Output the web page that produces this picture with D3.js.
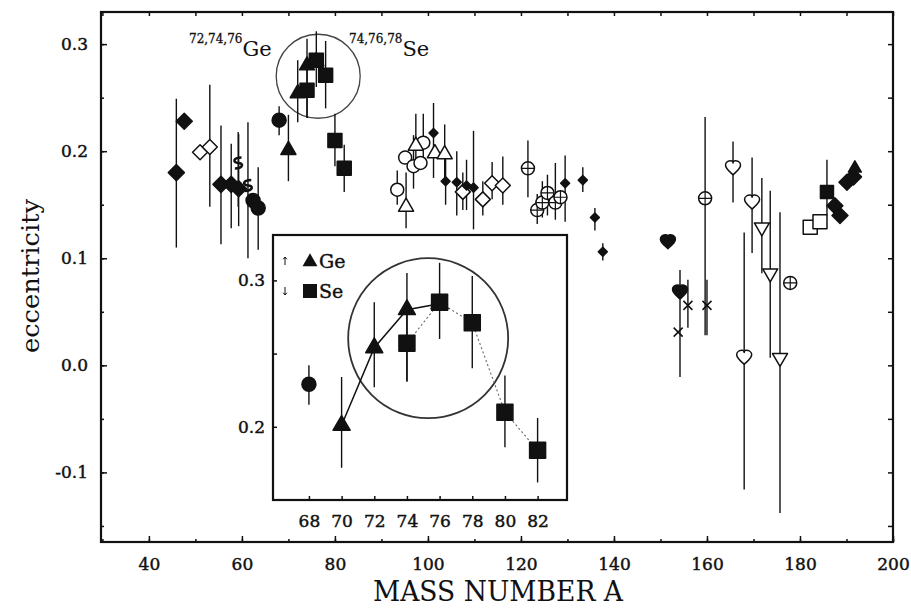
<!DOCTYPE html>
<html>
<head>
<meta charset="utf-8">
<script src="https://d3js.org/d3.v7.min.js"></script>
<style>
  body { margin: 0; background: #fff; }
  text { font-family: "DejaVu Serif", serif; fill: #111; }
</style>
</head>
<body>
<div id="chart"></div>
<script>
// rows: mass number A, eccentricity, lower end of error bar, upper end of error bar
var filledDiamonds = [
  [45.9, 0.180, 0.110, 0.249],
  [47.6, 0.228, null, null],
  [55.5, 0.169, 0.113, 0.224],
  [57.7, 0.169, 0.128, 0.207],
  [59.3, 0.165, 0.130, 0.216],
  [187.5, 0.149, null, null],
  [188.6, 0.140, null, null],
  [190.1, 0.171, null, null],
  [191.5, 0.176, null, null]
];
var smallFilled = [
  [101.2, 0.217, 0.175, 0.245],
  [103.8, 0.172, 0.150, 0.195],
  [106.2, 0.171, 0.140, 0.200],
  [108.3, 0.168, 0.145, 0.192],
  [109.8, 0.166, 0.127, 0.219],
  [129.5, 0.170, 0.134, 0.196],
  [133.3, 0.173, 0.162, 0.185],
  [135.9, 0.138, 0.126, 0.147],
  [137.6, 0.106, 0.098, 0.114]
];
var filledCircles = [
  [62.4, 0.154, null, null],
  [63.5, 0.147, 0.108, 0.185]
];
var dollarMarks = [
  [59.2, 0.189, 0.148, 0.218],
  [61.3, 0.168, 0.100, 0.227]
];
var openDiamonds = [
  [51.0, 0.199, null, null],
  [53.1, 0.204, 0.148, 0.262],
  [107.5, 0.162, 0.145, 0.180],
  [111.8, 0.155, 0.140, 0.172],
  [113.8, 0.170, 0.155, 0.190],
  [116.1, 0.168, 0.150, 0.195]
];
var openCircles = [
  [93.4, 0.164, 0.150, 0.182],
  [95.1, 0.194, null, null],
  [96.9, 0.186, 0.165, 0.215],
  [98.4, 0.189, null, null],
  [99.0, 0.208, 0.190, 0.235]
];
var openTriangles = [
  [95.3, 0.148, 0.128, 0.180],
  [97.4, 0.205, 0.185, 0.235],
  [101.5, 0.198, null, null],
  [103.6, 0.197, 0.175, 0.225]
];
var crossedCircles = [
  [121.5, 0.184, 0.157, 0.210],
  [123.5, 0.145, 0.132, 0.160],
  [124.6, 0.152, 0.138, 0.172],
  [125.7, 0.161, 0.140, 0.178],
  [127.4, 0.152, 0.136, 0.189],
  [128.5, 0.157, null, null],
  [159.6, 0.156, 0.028, 0.232],
  [177.9, 0.077, null, null]
];
var openHearts = [
  [165.6, 0.184, 0.152, 0.209],
  [169.7, 0.152, 0.105, 0.194],
  [168.0, 0.007, -0.116, 0.124]
];
var filledHearts = [
  [151.6, 0.115, null, null],
  [154.2, 0.068, -0.011, 0.089]
];
var openDownTriangles = [
  [171.8, 0.129, 0.086, 0.175],
  [173.6, 0.086, 0.007, 0.163],
  [175.7, 0.007, -0.138, 0.143]
];
var crossMarks = [
  [153.8, 0.031, null, null],
  [155.9, 0.056, 0.035, 0.080],
  [160.0, 0.056, 0.028, 0.080]
];
var openSquares = [
  [182.2, 0.129, null, null],
  [184.3, 0.134, null, null]
];
var filledSquares = [
  [185.8, 0.162, 0.140, 0.192]
];
var filledTriangles = [
  [191.8, 0.184, null, null]
];

// Zn, Ge and Se isotopes, drawn in the main panel and in the inset
var zinc = [[68, 0.229, 0.215, 0.242]];
var germanium = [
  [70, 0.201, 0.172, 0.234],
  [72, 0.254, 0.227, 0.285],
  [74, 0.280, 0.231, 0.305],
  [76, 0.284, null, null]
];
var selenium = [
  [74, 0.257, 0.231, 0.285],
  [76, 0.285, 0.260, 0.312],
  [78, 0.271, 0.240, 0.303],
  [80, 0.210, 0.186, 0.235],
  [82, 0.184, 0.162, 0.206]
];

var xTicks = [40, 60, 80, 100, 120, 140, 160, 180, 200];
var yTicks = [-0.1, 0.0, 0.1, 0.2, 0.3];
var insetXTicks = [68, 70, 72, 74, 76, 78, 80, 82];
var insetYTicks = [0.2, 0.3];

var width = 911, height = 610;
var svg = d3.select('#chart').append('svg')
  .attr('width', width).attr('height', height);

var x = d3.scaleLinear().domain([29.7, 200]).range([101, 893]);
var y = d3.scaleLinear().domain([-0.165, 0.33]).range([542, 12]);

// marker outlines, centred on 0,0; s is roughly the width in px
function shapePath(kind, s) {
  var h = s / 2, p = d3.path();
  if (kind == 'diamond') {
    p.moveTo(0, -h); p.lineTo(h, 0); p.lineTo(0, h); p.lineTo(-h, 0); p.closePath();
  } else if (kind == 'square') {
    p.rect(-h, -h, s, s);
  } else if (kind == 'circle') {
    p.arc(0, 0, h, 0, 2 * Math.PI);
  } else if (kind == 'triangle' || kind == 'down') {
    var t = s * 0.866, k = kind == 'down' ? -1 : 1;
    p.moveTo(0, -k * t * 2 / 3); p.lineTo(h, k * t / 3); p.lineTo(-h, k * t / 3); p.closePath();
  } else if (kind == 'heart') {
    var u = s / 14;
    return 'M0,' + 6 * u + 'C' + -2 * u + ',' + 4 * u + ' ' + -7 * u + ',' + 1 * u + ' ' + -7 * u + ',' + -3 * u +
      'C' + -7 * u + ',' + -6 * u + ' ' + -4 * u + ',' + -7 * u + ' ' + -2 * u + ',' + -7 * u +
      'C' + -1 * u + ',' + -7 * u + ' 0,' + -6 * u + ' 0,' + -5 * u +
      'C0,' + -6 * u + ' ' + 1 * u + ',' + -7 * u + ' ' + 2 * u + ',' + -7 * u +
      'C' + 4 * u + ',' + -7 * u + ' ' + 7 * u + ',' + -6 * u + ' ' + 7 * u + ',' + -3 * u +
      'C' + 7 * u + ',' + 1 * u + ' ' + 2 * u + ',' + 4 * u + ' 0,' + 6 * u + 'Z';
  } else if (kind == 'x') {
    p.moveTo(-h, -h); p.lineTo(h, h); p.moveTo(-h, h); p.lineTo(h, -h);
  } else if (kind == 'dollar') {
    return 'M' + h * 0.6 + ',' + -h + 'C' + -h + ',' + -h + ' ' + -h + ',0 0,0' +
      'C' + h + ',0 ' + h + ',' + h + ' ' + -h * 0.6 + ',' + h;
  } else if (kind == 'arrowUp' || kind == 'arrowDown') {
    var k2 = kind == 'arrowUp' ? 1 : -1;
    p.moveTo(0, k2 * h); p.lineTo(0, -k2 * h);
    p.moveTo(-h * 0.45, -k2 * h * 0.45); p.lineTo(0, -k2 * h); p.lineTo(h * 0.45, -k2 * h * 0.45);
  }
  return p.toString();
}

function drawSeries(layer, sx, sy, series) {
  // error bars underneath every marker
  series.forEach(function(ser) {
    layer.append('g').selectAll('line')
      .data(ser.rows.filter(function(d) { return d[2] != null; }))
      .enter().append('line')
      .attr('x1', function(d) { return sx(d[0]); })
      .attr('x2', function(d) { return sx(d[0]); })
      .attr('y1', function(d) { return sy(d[2]); })
      .attr('y2', function(d) { return sy(d[3]); })
      .attr('stroke', '#111').attr('stroke-width', 1.4);
  });
  series.forEach(function(ser) {
    var g = layer.append('g').selectAll('g')
      .data(ser.rows).enter().append('g')
      .attr('transform', function(d) { return 'translate(' + sx(d[0]) + ',' + sy(d[1]) + ')'; });
    var open = ser.fill == 'open';
    g.append('path')
      .attr('d', shapePath(ser.kind, ser.size))
      .attr('fill', (ser.kind == 'x' || ser.kind == 'dollar') ? 'none' : (open ? '#fff' : '#111'))
      .attr('stroke', '#111')
      .attr('stroke-width', ser.kind == 'dollar' ? 2.6 : 1.5)
      .attr('stroke-linejoin', 'round');
    if (ser.plus) {
      var r = ser.size / 2;
      g.append('path')
        .attr('d', 'M' + -r + ',0H' + r + 'M0,' + -r + 'V' + r)
        .attr('stroke', '#111').attr('stroke-width', 1.2);
    }
  });
}

// ---------- main panel ----------
var main = svg.append('g');

function styleAxis(g) {
  g.select('.domain').remove();
  g.selectAll('.tick line').attr('stroke', '#111').attr('stroke-width', 1.5);
  g.selectAll('text')
    .style('font-size', '17px').attr('fill', '#111')
    .attr('stroke', '#111').attr('stroke-width', 0.45);
}

main.append('g').attr('transform', 'translate(0,542)')
  .call(d3.axisBottom(x).tickValues(xTicks).tickSize(-6).tickPadding(16).tickFormat(d3.format('d')))
  .call(styleAxis);
main.append('g').attr('transform', 'translate(0,542)')
  .call(d3.axisBottom(x).ticks(17).tickSize(-3).tickFormat(''))
  .call(styleAxis);
main.append('g').attr('transform', 'translate(0,12)')
  .call(d3.axisTop(x).ticks(17).tickSize(-4).tickFormat(''))
  .call(styleAxis);
main.append('g').attr('transform', 'translate(101,0)')
  .call(d3.axisLeft(y).tickValues(yTicks).tickSize(-6).tickPadding(13)
    .tickFormat(function(d) { return d.toFixed(1); }))
  .call(styleAxis);
main.append('g').attr('transform', 'translate(101,0)')
  .call(d3.axisLeft(y).ticks(10).tickSize(-3).tickFormat(''))
  .call(styleAxis);
main.append('g').attr('transform', 'translate(893,0)')
  .call(d3.axisRight(y).ticks(10).tickSize(-5).tickFormat(''))
  .call(styleAxis);

main.append('rect')
  .attr('x', 101).attr('y', 12).attr('width', 792).attr('height', 530)
  .attr('fill', 'none').attr('stroke', '#111').attr('stroke-width', 2.2);

main.append('text')
  .attr('x', 498).attr('y', 601).attr('text-anchor', 'middle')
  .attr('textLength', 250).attr('lengthAdjust', 'spacingAndGlyphs')
  .style('font-size', '27px')
  .text('MASS NUMBER A');

main.append('text')
  .attr('transform', 'translate(39,276) rotate(-90)')
  .attr('text-anchor', 'middle')
  .attr('textLength', 154).attr('lengthAdjust', 'spacingAndGlyphs')
  .style('font-size', '25px')
  .text('eccentricity');

var ann = main.append('g');
var geLabel = ann.append('text').attr('x', 189).attr('y', 56);
geLabel.append('tspan').attr('dy', -13).style('font-size', '12px')
  .attr('stroke', '#111').attr('stroke-width', 0.3).text('72,74,76');
geLabel.append('tspan').attr('dy', 13).style('font-size', '21px').text('Ge');
var seLabel = ann.append('text').attr('x', 349).attr('y', 56);
seLabel.append('tspan').attr('dy', -13).style('font-size', '12px')
  .attr('stroke', '#111').attr('stroke-width', 0.3).text('74,76,78');
seLabel.append('tspan').attr('dy', 13).style('font-size', '21px').text('Se');

main.append('circle')
  .attr('cx', x(76.4)).attr('cy', y(0.27)).attr('r', 42)
  .attr('fill', 'none').attr('stroke', '#444').attr('stroke-width', 1.3);

drawSeries(main.append('g'), x, y, [
  { rows: openDiamonds, kind: 'diamond', fill: 'open', size: 15 },
  { rows: openCircles, kind: 'circle', fill: 'open', size: 13 },
  { rows: openTriangles, kind: 'triangle', fill: 'open', size: 15 },
  { rows: crossedCircles, kind: 'circle', fill: 'open', size: 13, plus: true },
  { rows: openHearts, kind: 'heart', fill: 'open', size: 15 },
  { rows: openDownTriangles, kind: 'down', fill: 'open', size: 15 },
  { rows: openSquares, kind: 'square', fill: 'open', size: 14 },
  { rows: crossMarks, kind: 'x', fill: 'open', size: 9 },
  { rows: dollarMarks, kind: 'dollar', fill: 'open', size: 11 },
  { rows: filledDiamonds, kind: 'diamond', fill: 'solid', size: 16 },
  { rows: smallFilled, kind: 'diamond', fill: 'solid', size: 9 },
  { rows: filledCircles, kind: 'circle', fill: 'solid', size: 14 },
  { rows: filledHearts, kind: 'heart', fill: 'solid', size: 15 },
  { rows: filledSquares, kind: 'square', fill: 'solid', size: 13 },
  { rows: filledTriangles, kind: 'triangle', fill: 'solid', size: 13 },
  { rows: zinc, kind: 'circle', fill: 'solid', size: 14 },
  { rows: germanium, kind: 'triangle', fill: 'solid', size: 15 },
  { rows: selenium, kind: 'square', fill: 'solid', size: 14 }
]);

// ---------- inset ----------
var ix = d3.scaleLinear().domain([65.8, 83.8]).range([273, 567]);
var iy = d3.scaleLinear().domain([0.15, 0.331]).range([500, 235]);
var inset = svg.append('g');

inset.append('rect')
  .attr('x', 273).attr('y', 235).attr('width', 294).attr('height', 265)
  .attr('fill', '#fff');

inset.append('g').attr('transform', 'translate(0,500)')
  .call(d3.axisBottom(ix).tickValues(insetXTicks).tickSize(-4).tickPadding(15).tickFormat(d3.format('d')))
  .call(styleAxis);
inset.append('g').attr('transform', 'translate(273,0)')
  .call(d3.axisLeft(iy).tickValues(insetYTicks).tickSize(-4).tickPadding(8)
    .tickFormat(function(d) { return d.toFixed(1); }))
  .call(styleAxis);
inset.append('g').attr('transform', 'translate(273,0)')
  .call(d3.axisLeft(iy).tickValues([0.25]).tickSize(-4).tickFormat(''))
  .call(styleAxis);

inset.append('rect')
  .attr('x', 273).attr('y', 235).attr('width', 294).attr('height', 265)
  .attr('fill', 'none').attr('stroke', '#111').attr('stroke-width', 2.2);

inset.append('circle')
  .attr('cx', ix(75.3)).attr('cy', iy(0.2605)).attr('r', 80)
  .attr('fill', 'none').attr('stroke', '#333').attr('stroke-width', 1.8);

var line = d3.line()
  .x(function(d) { return ix(d[0]); })
  .y(function(d) { return iy(d[1]); });
inset.append('path').datum(germanium).attr('d', line)
  .attr('fill', 'none').attr('stroke', '#111').attr('stroke-width', 1.5);
inset.append('path').datum(selenium).attr('d', line)
  .attr('fill', 'none').attr('stroke', '#666').attr('stroke-width', 1.1)
  .attr('stroke-dasharray', '2,2.5');

drawSeries(inset.append('g'), ix, iy, [
  { rows: zinc, kind: 'circle', fill: 'solid', size: 14 },
  { rows: germanium, kind: 'triangle', fill: 'solid', size: 17 },
  { rows: selenium, kind: 'square', fill: 'solid', size: 16 }
]);

// legend in the inset
var leg = inset.append('g');
leg.append('path').attr('transform', 'translate(285,261)')
  .attr('d', shapePath('arrowUp', 8)).attr('fill', 'none')
  .attr('stroke', '#111').attr('stroke-width', 1);
leg.append('path').attr('transform', 'translate(310,262)')
  .attr('d', shapePath('triangle', 15)).attr('fill', '#111');
leg.append('text').attr('x', 319).attr('y', 268).style('font-size', '19px')
  .attr('stroke', '#111').attr('stroke-width', 0.4).text('Ge');
leg.append('path').attr('transform', 'translate(285,291)')
  .attr('d', shapePath('arrowDown', 8)).attr('fill', 'none')
  .attr('stroke', '#111').attr('stroke-width', 1);
leg.append('path').attr('transform', 'translate(310,291)')
  .attr('d', shapePath('square', 14)).attr('fill', '#111');
leg.append('text').attr('x', 319).attr('y', 298).style('font-size', '19px')
  .attr('stroke', '#111').attr('stroke-width', 0.4).text('Se');
</script>
</body>
</html>
